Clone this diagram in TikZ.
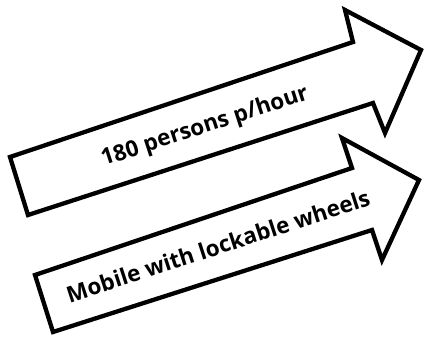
\documentclass[tikz,border=0pt]{standalone}
\usepackage{fontspec}
\setmainfont{Open Sans}
\begin{document}
\begin{tikzpicture}[x=1pt,y=-1pt,
  arrowshape/.style={draw=black,fill=white,line width=4.3pt,line join=miter},
  arrowlabel/.style={font=\bfseries\fontsize{22.5}{27}\selectfont,rotate=18,inner sep=0pt}]
\useasboundingbox (0,0) rectangle (424,337);
% upper arrow
\draw[arrowshape] (10,157) -- (28,215) -- (373,103) -- (385,133) -- (421,50) -- (345,10) -- (353,42) -- cycle;
% lower arrow
\draw[arrowshape] (35,275) -- (53,332) -- (372,230) -- (382,260) -- (419,180) -- (342,138) -- (352,168) -- cycle;
\node[arrowlabel] (t1) at (205,127) {180 persons p/hour};
\node[arrowlabel] (t2) at (218,246) {Mobile with lockable wheels};
\end{tikzpicture}
\end{document}
